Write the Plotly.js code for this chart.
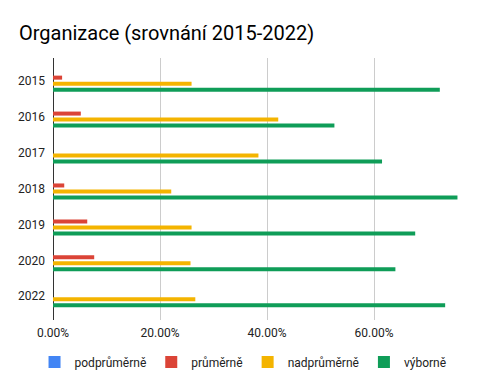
<!DOCTYPE html>
<html><head><meta charset="utf-8">
<script src="https://cdn.plot.ly/plotly-3.0.1.min.js"></script>
<style>html,body{margin:0;padding:0;background:#fff}#c{width:501px;height:389px}</style>
</head><body><div id="c"></div>
<script>
const years = ['2015','2016','2017','2018','2019','2020','2022'];
const seriesNames = ['podprůměrně','průměrně','nadprůměrně','výborně'];
const podprumerne = [0,0,0,0,0,0,0];
const prumerne = [0.017,0.052,0,0.021,0.064,0.077,0];
const nadprumerne = [0.259,0.421,0.384,0.221,0.259,0.257,0.266];
const vyborne = [0.723,0.526,0.615,0.756,0.677,0.640,0.733];
const colors = ['#4285F4','#DB4437','#F4B400','#0F9D58'];
const values = [podprumerne, prumerne, nadprumerne, vyborne];
const tickVals = [0,0.2,0.4,0.6,0.8];
const tickText = ['0.00%','20.00%','40.00%','60.00%',''];

const traces = values.map((v,i)=>({
  type:'bar', orientation:'h', name: seriesNames[i], y: years, x: v,
  marker:{color: colors[i]}, hoverinfo:'x+name'
}));
const layout = {
  width:501, height:389,
  margin:{l:53, r:20, t:58, b:69},
  paper_bgcolor:'#fff', plot_bgcolor:'#fff',
  font:{family:'Roboto, sans-serif', size:12, color:'#222'},
  title:{text:'Organizace (srovnání 2015-2022)', xref:'container', x:19/501, xanchor:'left', yref:'container', y:1-33/389, yanchor:'middle', font:{size:20, color:'#000'}},
  barmode:'group', bargap:0.332, bargroupgap:0.33,
  xaxis:{range:[0,0.8], tickvals:tickVals, ticktext:tickText, showgrid:true, gridcolor:'#cccccc', gridwidth:1, zeroline:true, zerolinecolor:'#333', zerolinewidth:1, showline:false, ticks:'', ticklabelstandoff:4, tickfont:{size:12, color:'#222'}},
  yaxis:{type:'category', range:[6.66,-0.63], showgrid:false, zeroline:false, showline:false, ticks:'', ticklabelstandoff:7, tickfont:{size:12, color:'#222'}},
  legend:{orientation:'h', x:0.444, xanchor:'center', y:-0.16, yanchor:'middle', font:{size:12, color:'#222'}, traceorder:'normal'},
  showlegend:true
};
Plotly.newPlot('c', traces, layout, {displayModeBar:false, staticPlot:true});
</script></body></html>
